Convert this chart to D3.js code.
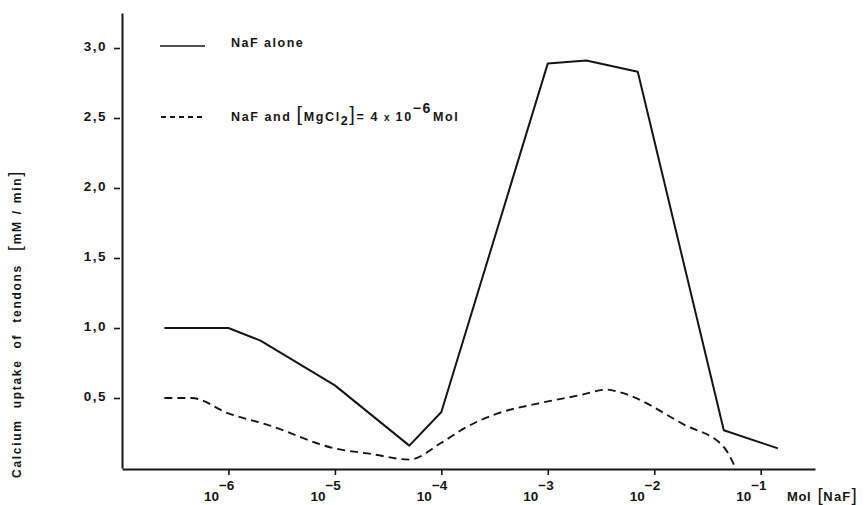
<!DOCTYPE html>
<html>
<head>
<meta charset="utf-8">
<script src="https://cdn.jsdelivr.net/npm/d3@7"></script>
<style>
  body { margin: 0; background: #fff; }
  svg text { font-family: "Liberation Sans", Arial, sans-serif; font-weight: bold; fill: #151515; }
</style>
</head>
<body>
<div id="container"></div>
<script>
// NaF concentration (Mol) vs calcium uptake of tendons (mM/min)
var nafAloneX = [2.5e-7, 1e-6, 2e-6, 1e-5, 5e-5, 1e-4, 1e-3, 2.3e-3, 7e-3, 4.5e-2, 1.45e-1]
var nafAloneY = [1.0, 1.0, 0.91, 0.59, 0.16, 0.40, 2.89, 2.91, 2.83, 0.27, 0.14]

var nafMgX = [2.5e-7, 4.5e-7, 1e-6, 2.3e-6, 1e-5, 2.2e-5, 5e-5, 1e-4, 1.7e-4, 3.4e-4, 8e-4, 2e-3, 3.6e-3, 4.8e-3, 1.9e-2, 4.5e-2, 5.8e-2]
var nafMgY = [0.50, 0.50, 0.39, 0.31, 0.14, 0.10, 0.06, 0.18, 0.29, 0.39, 0.46, 0.52, 0.56, 0.54, 0.31, 0.15, 0.0]

var xTicks = [1e-6, 1e-5, 1e-4, 1e-3, 1e-2, 1e-1]
var yTicks = [0.5, 1.0, 1.5, 2.0, 2.5, 3.0]

var WIDTH = 867
var HEIGHT = 505

var svg = d3.select('div#container').append('svg')
  .attr('width', WIDTH)
  .attr('height', HEIGHT)

var x = d3.scaleLog()
  .domain([1e-7, Math.pow(10, -0.49)])
  .range([122, 815])

var y = d3.scaleLinear()
  .domain([0, 3.25])
  .range([468, 13])

// y axis
var yAxis = svg.append('g')
  .attr('transform', 'translate(122,0)')
  .call(d3.axisLeft(y)
    .tickValues(yTicks)
    .tickSize(9)
    .tickSizeOuter(0)
    .tickPadding(6)
    .tickFormat(function (d) { return d3.format('.1f')(d).replace('.', ',') }))

yAxis.select('.domain').attr('stroke', '#151515').attr('stroke-width', 2)
yAxis.selectAll('.tick line').attr('stroke', '#151515').attr('stroke-width', 1.6)
  .attr('x2', -8).attr('x1', -2)
yAxis.selectAll('.tick text')
  .attr('font-size', 13.5)
  .style('letter-spacing', '1.5px')
  .attr('dy', '0.2em')

// x axis
var xAxis = svg.append('g')
  .attr('transform', 'translate(0,469)')
  .call(d3.axisBottom(x)
    .tickValues(xTicks)
    .tickSize(6)
    .tickSizeOuter(0)
    .tickFormat(''))

xAxis.select('.domain').attr('stroke', '#151515').attr('stroke-width', 2)
xAxis.selectAll('.tick line').attr('stroke', '#151515').attr('stroke-width', 1.6)

xAxis.selectAll('.tick').each(function (d) {
  var t = d3.select(this).append('text')
    .attr('x', -25)
    .attr('y', 32)
    .attr('text-anchor', 'start')
    .attr('font-size', 13.5)
  t.append('tspan').text('10')
  t.append('tspan')
    .attr('dy', -11)
    .attr('font-size', 13.5)
    .text('\u2212' + Math.round(-Math.log10(d)))
})

// x axis title
var xt = svg.append('text')
  .attr('x', 787)
  .attr('y', 501)
  .attr('font-size', 13)
  .style('letter-spacing', '0.6px')
xt.append('tspan').text('Mol ')
xt.append('tspan').attr('font-size', 19).attr('font-weight', 'normal').attr('dx', 2).text('[')
xt.append('tspan').style('letter-spacing', '1.2px').text('NaF')
xt.append('tspan').attr('font-size', 19).attr('font-weight', 'normal').text(']')

// y axis title
var yt = svg.append('text')
  .attr('transform', 'translate(21,324) rotate(-90)')
  .attr('text-anchor', 'middle')
  .attr('font-size', 12)
  .style('letter-spacing', '1.7px')
  .style('word-spacing', '6px')
yt.append('tspan').text('Calcium uptake of tendons ')
yt.append('tspan').attr('font-size', 18).attr('font-weight', 'normal').attr('dx', 2).text('[')
yt.append('tspan').style('word-spacing', '1px').text('mM / min')
yt.append('tspan').attr('font-size', 18).attr('font-weight', 'normal').text(']')

// lines
var solid = nafAloneX.map(function (v, i) { return [v, nafAloneY[i]] })
var dashed = nafMgX.map(function (v, i) { return [v, nafMgY[i]] })

var line = d3.line()
  .x(function (d) { return x(d[0]) })
  .y(function (d) { return y(d[1]) })

svg.append('path')
  .datum(solid)
  .attr('d', line)
  .attr('fill', 'none')
  .attr('stroke', '#151515')
  .attr('stroke-width', 2)
  .attr('stroke-linejoin', 'round')

svg.append('path')
  .datum(dashed)
  .attr('d', line.curve(d3.curveMonotoneX))
  .attr('fill', 'none')
  .attr('stroke', '#151515')
  .attr('stroke-width', 1.9)
  .attr('stroke-dasharray', '8,5')

// legend
svg.append('line')
  .attr('x1', 160).attr('x2', 205)
  .attr('y1', 46).attr('y2', 46)
  .attr('stroke', '#151515').attr('stroke-width', 1.5)

svg.append('text')
  .attr('x', 231).attr('y', 47)
  .attr('font-size', 12.5)
  .style('letter-spacing', '1.5px')
  .text('NaF alone')

svg.append('line')
  .attr('x1', 161).attr('x2', 205)
  .attr('y1', 117).attr('y2', 117)
  .attr('stroke', '#151515').attr('stroke-width', 2)
  .attr('stroke-dasharray', '5,4')

var lg = svg.append('text')
  .attr('x', 231).attr('y', 121)
  .attr('font-size', 12.5)
  .style('letter-spacing', '1.6px')
lg.append('tspan').text('NaF and ')
lg.append('tspan').attr('font-size', 20).attr('font-weight', 'normal').text('[')
lg.append('tspan').text('MgCl')
lg.append('tspan').attr('dy', 4).text('2')
lg.append('tspan').attr('dy', -4).attr('font-size', 20).attr('font-weight', 'normal').text(']')
lg.append('tspan').text('= 4 ')
lg.append('tspan').attr('font-size', 10).text('x ')
lg.append('tspan').text('10')
lg.append('tspan').attr('dy', -8).attr('font-size', 14).text('\u22126')
lg.append('tspan').attr('dy', 8).attr('dx', 1).text('Mol')
</script>
</body>
</html>
